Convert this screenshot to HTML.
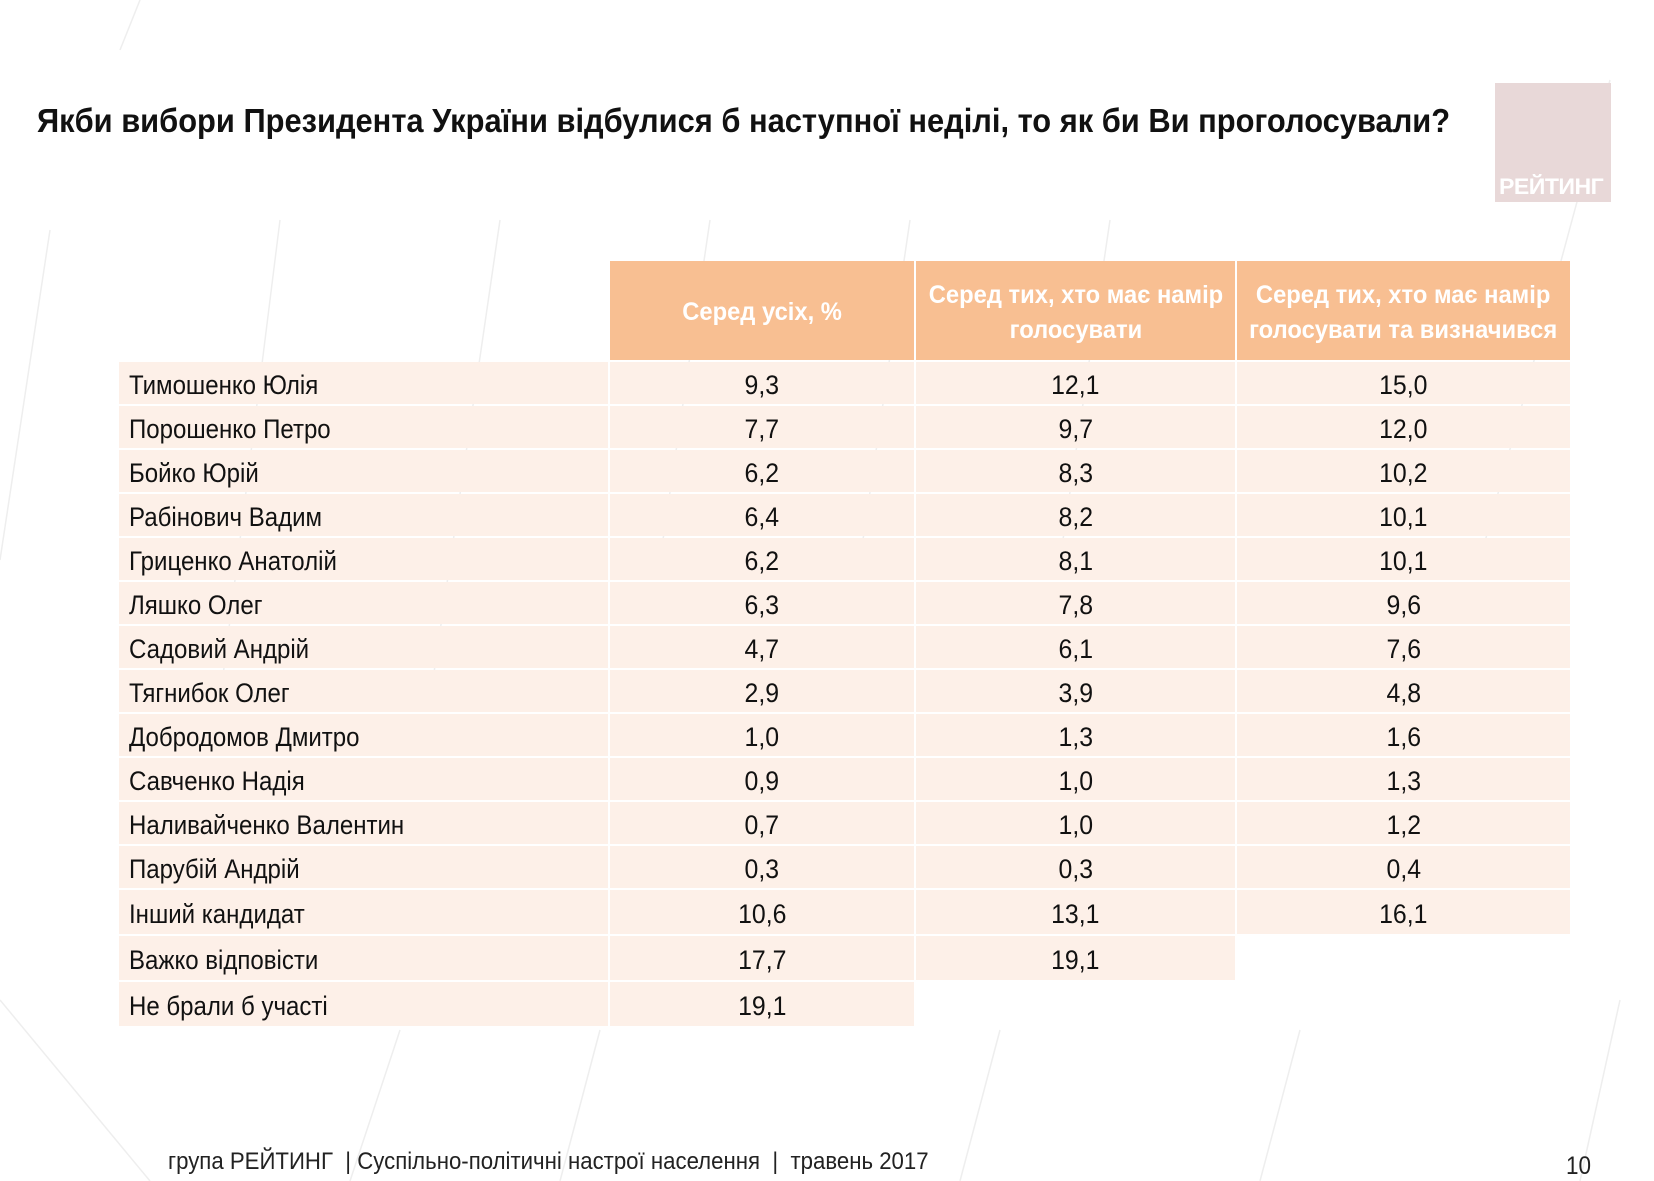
<!DOCTYPE html>
<html><head><meta charset="utf-8">
<style>
html,body{margin:0;padding:0;background:#fff;}
body{width:1654px;height:1181px;position:relative;overflow:hidden;font-family:"Liberation Sans Narrow","Liberation Sans",sans-serif;}
.t{position:absolute;white-space:nowrap;transform-origin:left center;}
.cell{position:absolute;background:#FDF0E8;font-size:27px;color:#111;display:flex;align-items:center;padding-top:5px;box-sizing:border-box;}
.cell span{display:inline-block;transform:scaleX(0.89);transform-origin:left center;white-space:nowrap;}
.num{justify-content:center;}
.num span{transform-origin:center center;transform:scaleX(0.92);}
.hdr{position:absolute;background:#F8BF92;color:#fff;font-weight:bold;font-size:25px;display:flex;align-items:center;justify-content:center;text-align:center;line-height:35px;padding-top:4px;box-sizing:border-box;}
.hdr span{display:inline-block;transform:scaleX(0.95);white-space:nowrap;}
</style></head>
<body>
<svg width="1654" height="1181" style="position:absolute;left:0;top:0">
<g stroke="#eeeeee" stroke-width="1.5" fill="none">
<line x1="50" y1="230" x2="0" y2="560"/><line x1="280" y1="220" x2="220" y2="700"/>
<line x1="500" y1="220" x2="430" y2="700"/><line x1="710" y1="220" x2="660" y2="560"/>
<line x1="910" y1="220" x2="860" y2="560"/><line x1="1110" y1="220" x2="1060" y2="560"/>
<line x1="1610" y1="80" x2="1480" y2="560"/><line x1="140" y1="0" x2="120" y2="50"/>
<line x1="400" y1="1030" x2="350" y2="1181"/><line x1="600" y1="1030" x2="560" y2="1181"/>
<line x1="1000" y1="1030" x2="960" y2="1181"/><line x1="1300" y1="1030" x2="1260" y2="1181"/>
<line x1="1620" y1="1000" x2="1580" y2="1181"/><line x1="0" y1="1000" x2="150" y2="1181"/>
</g></svg>
<div class="t" style="left:37px;top:102px;font-size:33px;font-weight:bold;color:#111;transform:scaleX(0.935);">Якби вибори Президента України відбулися б наступної неділі, то як би Ви проголосували?</div>
<div style="position:absolute;left:1495px;top:83px;width:116px;height:119px;background:#E8D8D8;">
<div class="t" style="left:4px;bottom:2px;font-size:22px;font-weight:bold;color:#fff;letter-spacing:-0.5px;transform:scaleX(1.05);">РЕЙТИНГ</div></div>
<div id="tbl"></div>
<div class="t" style="left:168px;top:1148px;font-size:24px;color:#222;transform:scaleX(0.925);">група РЕЙТИНГ&nbsp; | Суспільно-політичні настрої населення&nbsp; |&nbsp; травень 2017</div>
<div class="t" style="left:1566px;top:1152px;font-size:25px;color:#222;transform:scaleX(0.9);">10</div>
<script>
const headers=["Серед усіх, %","Серед тих, хто має намір<br>голосувати","Серед тих, хто має намір<br>голосувати та визначився"];
const candidates=["Тимошенко Юлія","Порошенко Петро","Бойко Юрій","Рабінович Вадим","Гриценко Анатолій","Ляшко Олег","Садовий Андрій","Тягнибок Олег","Добродомов Дмитро","Савченко Надія","Наливайченко Валентин","Парубій Андрій","Інший кандидат","Важко відповісти","Не брали б участі"];
const allValues=["9,3","7,7","6,2","6,4","6,2","6,3","4,7","2,9","1,0","0,9","0,7","0,3","10,6","17,7","19,1"];
const votingValues=["12,1","9,7","8,3","8,2","8,1","7,8","6,1","3,9","1,3","1,0","1,0","0,3","13,1","19,1",null];
const decidedValues=["15,0","12,0","10,2","10,1","10,1","9,6","7,6","4,8","1,6","1,3","1,2","0,4","16,1",null,null];
const tbl=document.getElementById('tbl');
const colX=[[610,304],[916,319],[1237,333]];
const series=[allValues,votingValues,decidedValues];
headers.forEach((h,i)=>{
  const d=document.createElement('div');d.className='hdr';
  
  
  d.style.left=colX[i][0]+'px';d.style.top='261px';d.style.width=colX[i][1]+'px';d.style.height='99px';
  d.innerHTML='<span>'+h+'</span>';tbl.appendChild(d);
});
function rowTop(r){return r<=12?362+r*44:362+12*44+(r-12)*46;}
function rowH(r){return r<12?42:44;}
candidates.forEach((c,r)=>{
  const l=document.createElement('div');l.className='cell';
  
  
  l.style.left='119px';l.style.top=rowTop(r)+'px';l.style.width='489px';l.style.height=rowH(r)+'px';
  l.style.paddingLeft='10px';
  const sp=document.createElement('span');sp.textContent=c;l.appendChild(sp);
  tbl.appendChild(l);
  series.forEach((s,i)=>{
    if(s[r]==null)return;
    const v=document.createElement('div');v.className='cell num';
    
    
    v.style.left=colX[i][0]+'px';v.style.top=rowTop(r)+'px';v.style.width=colX[i][1]+'px';v.style.height=rowH(r)+'px';
    const vs=document.createElement('span');vs.textContent=s[r];v.appendChild(vs);
    tbl.appendChild(v);
  });
});
</script>
</body></html>
